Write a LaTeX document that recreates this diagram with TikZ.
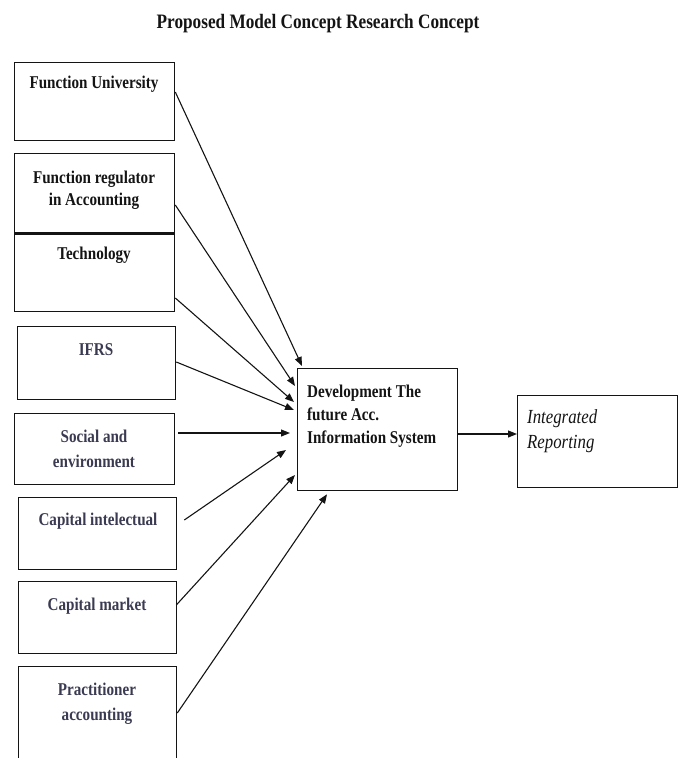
\documentclass[tikz,border=0pt]{standalone}
\usepackage{fontspec}
\setmainfont{Liberation Serif}[FakeStretch=0.84]
\usetikzlibrary{arrows.meta,calc}
\definecolor{slate}{RGB}{58,58,82}
\definecolor{ink}{RGB}{20,20,20}
\tikzset{
  box/.style={draw=ink, line width=1.3pt, rectangle, inner sep=0pt, anchor=north west},
  lbl/.style={anchor=base, inner sep=0pt, font=\fontsize{18}{23}\selectfont\bfseries, text=ink},
  lbls/.style={lbl, text=slate},
  arr/.style={draw=ink, line width=1.1pt, -{Triangle[length=9pt,width=7pt]}},
}
\begin{document}
\begin{tikzpicture}[x=1pt,y=-1pt]
\useasboundingbox (0,0) rectangle (679,758);
\clip (0,0) rectangle (679,758);
% title
\node[lbl, font=\fontsize{20.5}{24}\selectfont\bfseries] (title) at (318,28) {Proposed Model Concept Research Concept};
% left boxes
\node[box, minimum width=160pt, minimum height=78pt] (fu) at (14,62) {};
\node[box, minimum width=160pt, minimum height=79pt] (fr) at (14,153) {};
\node[box, minimum width=160pt, minimum height=79pt] (tech) at (14,232) {};
\draw[ink, line width=2.6pt] (fr.south west) -- (fr.south east);
\node[box, minimum width=158pt, minimum height=73pt] (ifrs) at (17,326) {};
\node[box, minimum width=160pt, minimum height=71pt] (soc) at (14,413) {};
\node[box, minimum width=158pt, minimum height=72pt] (ci) at (18,497) {};
\node[box, minimum width=158pt, minimum height=72pt] (cm) at (18,581) {};
\node[box, minimum width=158pt, minimum height=130pt] (pa) at (18,666) {};
% central and right boxes
\node[box, minimum width=160pt, minimum height=122pt] (dev) at (297,368) {};
\node[box, minimum width=160pt, minimum height=92pt] (ir) at (517,395) {};
% labels
\node[lbl] (tfu) at (94,88) {Function University};
\node[lbl] (tfr1) at (94,183) {Function regulator};
\node[lbl] (tfr2) at (94,205) {in Accounting};
\node[lbl] (ttech) at (94,259) {Technology};
\node[lbls] (tifrs) at (96,355) {IFRS};
\node[lbls] (tsoc1) at (94,442) {Social and};
\node[lbls] (tsoc2) at (94,467) {environment};
\node[lbls] (tci) at (98,525) {Capital intelectual};
\node[lbls] (tcm) at (97,610) {Capital market};
\node[lbls] (tpa1) at (97,695) {Practitioner};
\node[lbls] (tpa2) at (97,720) {accounting};
\node[lbl, anchor=base west] (tdev1) at (307,397) {Development The};
\node[lbl, anchor=base west] (tdev2) at (307,420) {future Acc.};
\node[lbl, anchor=base west] (tdev3) at (307,443) {Information System};
\node[lbl, anchor=base west, font=\fontsize{20}{25}\selectfont\itshape] (tir1) at (527,423) {Integrated};
\node[lbl, anchor=base west, font=\fontsize{20}{25}\selectfont\itshape] (tir2) at (527,448) {Reporting};
% arrows
\draw[arr] ($(fu.north east)+(0,30)$) -- ($(dev.north west)+(5,-2)$);
\draw[arr] ($(fr.north east)+(0,52)$) -- ($(dev.north west)+(-2,18)$);
\draw[arr] ($(tech.north east)+(0,66)$) -- ($(dev.north west)+(-3,34)$);
\draw[arr] ($(ifrs.north east)+(0,36)$) -- ($(dev.north west)+(-3,42)$);
\draw[arr] ($(soc.north east)+(3,20)$) -- ($(dev.north west)+(-7,65)$);
\draw[arr] ($(ci.north east)+(7,23)$) -- ($(dev.north west)+(-11,82)$);
\draw[arr] ($(cm.north east)+(-1,24)$) -- ($(dev.north west)+(-2,107)$);
\draw[arr] ($(pa.north east)+(0,47)$) -- ($(dev.south west)+(30,3)$);
\draw[arr] ($(dev.north east)+(0,66)$) -- ($(ir.north west)+(0,39)$);
\end{tikzpicture}
\end{document}
